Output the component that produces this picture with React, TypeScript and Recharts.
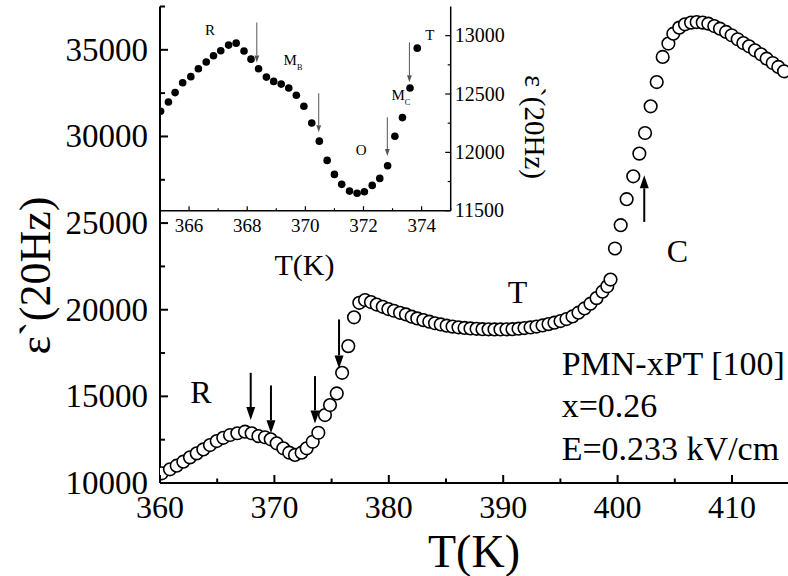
import React from 'react';
import { ScatterChart, Scatter, XAxis, YAxis, ReferenceLine, ReferenceDot } from 'recharts';

const FONT = "'Liberation Serif', 'Times New Roman', serif";

// Main curve: dielectric permittivity at 20 Hz vs temperature (open circles)
const mainTemps = [
  360.15, 360.87, 361.46, 362.04, 362.62, 363.21, 363.79, 364.37, 364.96, 365.53,
  366.12, 366.76, 367.43, 368.01, 368.6, 369.18, 369.68, 370.2, 370.78, 371.3,
  371.8, 372.38, 372.82, 373.35, 373.84, 374.42, 374.86, 375.45, 375.92, 376.46,
  376.96, 377.42, 377.92, 378.44, 378.94, 379.47, 379.96, 380.45, 380.98, 381.5,
  382.0, 382.49, 383.02, 383.54, 384.04, 384.54, 385.06, 385.57, 386.09, 386.62,
  387.14, 387.67, 388.19, 388.72, 389.24, 389.76, 390.29, 390.81, 391.34, 391.86,
  392.39, 392.91, 393.44, 393.96, 394.48, 395.01, 395.53, 396.06, 396.58, 397.11,
  397.63, 398.16, 398.68, 399.1, 399.38, 399.77, 400.27, 400.79, 401.37, 401.9,
  402.4, 402.89, 403.42, 403.94, 404.44, 404.87, 405.39, 405.89, 406.42, 406.91,
  407.44, 407.93, 408.45, 408.95, 409.48, 409.97, 410.5, 410.99, 411.49, 412.01,
  412.54, 413.03, 413.56, 414.05, 414.55,
];
const mainEps = [
  10560, 10790, 11000, 11230, 11480, 11710, 11940, 12190, 12420, 12610,
  12770, 12870, 12960, 12870, 12710, 12640, 12520, 12290, 12000, 11750,
  11620, 11750, 12000, 12380, 12900, 13920, 14500, 15170, 16360, 17900,
  19560, 20400, 20560, 20440, 20300, 20170, 20040, 19940, 19820, 19730,
  19600, 19500, 19400, 19310, 19220, 19150, 19080, 19025, 18985, 18950,
  18920, 18900, 18880, 18870, 18865, 18865, 18870, 18880, 18905, 18940,
  18980, 19030, 19095, 19170, 19250, 19345, 19460, 19615, 19830, 20075,
  20350, 20670, 21040, 21350, 21740, 23535, 24880, 26380, 27700, 29010,
  30200, 31740, 33140, 34590, 35360, 35930, 36280, 36470, 36570, 36600,
  36570, 36510, 36370, 36220, 36030, 35840, 35610, 35390, 35200, 34970,
  34740, 34490, 34240, 34010, 33760,
];

// Inset: close-up of the 365-375 K range (filled dots)
const insetTemps = [
  365.02, 365.29, 365.52, 365.78, 366.06, 366.32, 366.59, 366.84, 367.09, 367.36,
  367.62, 367.89, 368.13, 368.39, 368.66, 368.91, 369.17, 369.43, 369.69, 369.95,
  370.22, 370.48, 370.75, 371.0, 371.25, 371.52, 371.78, 372.03, 372.3, 372.56,
  372.83, 373.08, 373.34, 373.6, 373.85,
];
const insetEps = [
  12352, 12432, 12512, 12597, 12649, 12717, 12774, 12828, 12871, 12919,
  12936, 12868, 12799, 12717, 12645, 12608, 12585, 12551, 12489, 12395,
  12252, 12096, 11931, 11811, 11726, 11668, 11649, 11662, 11717, 11777,
  11885, 12138, 12298, 12551, 12893,
];

// Axis ticks
const mainXTicks = [360, 365, 370, 375, 380, 385, 390, 395, 400, 405, 410, 415];
const mainYTicks = [10000, 12500, 15000, 17500, 20000, 22500, 25000, 27500, 30000, 32500, 35000, 37500];
const insetXTicks = [365, 366, 367, 368, 369, 370, 371, 372, 373, 374, 375];
const insetYTicks = [11500, 11750, 12000, 12250, 12500, 12750, 13000];

// Transition arrows: temperature, tail value, head value
const mainArrowT = [367.93, 369.7, 373.55, 375.65, 402.33];
const mainArrowFrom = [16360, 15630, 16170, 19440, 25070];
const mainArrowTo = [13630, 12870, 13440, 16615, 27760];
const insetArrowT = [368.33, 370.46, 372.82, 373.58];
const insetArrowFrom = [13113, 12506, 12301, 12942];
const insetArrowTo = [12771, 12173, 11968, 12600];

// Phase labels
const mainPhaseText = ['R', 'T', 'C'];
const mainPhaseT = [363.58, 391.25, 405.24];
const mainPhaseEps = [14614, 20398, 22763];
const mainInfoText = ['PMN-xPT [100]', 'x=0.26', 'E=0.233 kV/cm'];
const mainInfoT = 395.11;
const mainInfoEps = [16228, 13824, 11326];

const insetPhaseText = ['R', 'T', 'O'];
const insetPhaseT = [366.72, 374.28, 371.92];
const insetPhaseEps = [13002, 12959, 11976];
const insetSubText = ['B', 'C'];
const insetSubT = [369.25, 372.96];
const insetSubEps = [12745, 12446];

const mainPoints = mainTemps.map((t, i) => ({ t, eps: mainEps[i] }));
const insetPoints = insetTemps.map((t, i) => ({ t, eps: insetEps[i] }));

type Side = 'bottom' | 'top' | 'left' | 'right';
interface TickStyle {
  side: Side;
  step: number;
  major: number;
  minor: number;
  width: number;
  size?: number;
  gap?: number;
  shift?: number;
}

// Inward-pointing ticks; labels only on major values
function tickRenderer(s: TickStyle) {
  return (props: any) => {
    const { x, y, payload } = props;
    const v = Number(payload.value);
    const r = v / s.step;
    const isMajor = Math.abs(r - Math.round(r)) < 1e-6;
    const len = isMajor ? s.major : s.minor;
    let x2 = x;
    let y2 = y;
    if (s.side === 'bottom') y2 = y - len;
    else if (s.side === 'top') y2 = y + len;
    else if (s.side === 'left') x2 = x + len;
    else x2 = x - len;
    let label: React.ReactNode = null;
    if (isMajor && s.size) {
      const common = { fontFamily: FONT, fontSize: s.size, fill: '#000' };
      const gap = s.gap || 0;
      const shift = s.shift || 0;
      if (s.side === 'bottom') {
        label = <text x={x} y={y + gap} textAnchor="middle" {...common}>{v}</text>;
      } else if (s.side === 'left') {
        label = <text x={x - gap} y={y + shift} textAnchor="end" {...common}>{v}</text>;
      } else if (s.side === 'right') {
        label = <text x={x + gap} y={y + shift} textAnchor="start" {...common}>{v}</text>;
      }
    }
    return (
      <g>
        <line x1={x} y1={y} x2={x2} y2={y2} stroke="#000" strokeWidth={s.width} />
        {label}
      </g>
    );
  };
}

function arrowShape(color: string, width: number, headLen: number, headHalf: number) {
  return (p: any) => {
    const { x1, y1, x2, y2 } = p;
    const dx = x2 - x1;
    const dy = y2 - y1;
    const L = Math.hypot(dx, dy) || 1;
    const ux = dx / L;
    const uy = dy / L;
    const bx = x2 - ux * headLen;
    const by = y2 - uy * headLen;
    const px = -uy * headHalf;
    const py = ux * headHalf;
    return (
      <g>
        <line x1={x1} y1={y1} x2={bx} y2={by} stroke={color} strokeWidth={width} />
        <polygon points={`${x2},${y2} ${bx + px},${by + py} ${bx - px},${by - py}`} fill={color} />
      </g>
    );
  };
}

function textShape(text: string, size: number, anchor: 'start' | 'middle', sub?: string) {
  return (p: any) => (
    <text x={p.cx} y={p.cy} fontFamily={FONT} fontSize={size} textAnchor={anchor} fill="#000">
      {text}
      {sub ? <tspan fontSize={size * 0.55} dy={size * 0.3}>{sub}</tspan> : null}
    </text>
  );
}

const openCircle = (p: any) => (
  <circle cx={p.cx} cy={p.cy} r={6.3} fill="#fff" stroke="#000" strokeWidth={1.6} />
);
const filledDot = (p: any) => <circle cx={p.cx} cy={p.cy} r={3.8} fill="#000" />;

const MainChart = () => (
  <ScatterChart width={800} height={576} margin={{ top: 6.5, right: 10.8, bottom: 33, left: 0 }}>
    <XAxis
      xAxisId="b"
      type="number"
      dataKey="t"
      domain={[360, 415]}
      ticks={mainXTicks}
      interval={0}
      allowDataOverflow
      height={60}
      tickSize={0}
      tickMargin={0}
      axisLine={{ stroke: '#000', strokeWidth: 2 }}
      tickLine={false}
      tick={tickRenderer({ side: 'bottom', step: 10, major: 8, minor: 4.5, width: 2, size: 32, gap: 35 })}
    />
    <XAxis
      xAxisId="top"
      orientation="top"
      type="number"
      dataKey="t"
      domain={[360, 415]}
      ticks={mainXTicks}
      interval={0}
      allowDataOverflow
      height={0}
      tickSize={0}
      tickMargin={0}
      axisLine={{ stroke: '#000', strokeWidth: 2 }}
      tickLine={false}
      tick={tickRenderer({ side: 'top', step: 10, major: 3, minor: 3, width: 1.5 })}
    />
    <YAxis
      yAxisId="l"
      type="number"
      dataKey="eps"
      domain={[10000, 37500]}
      ticks={mainYTicks}
      interval={0}
      allowDataOverflow
      width={160}
      tickSize={0}
      tickMargin={0}
      axisLine={{ stroke: '#000', strokeWidth: 2 }}
      tickLine={false}
      tick={tickRenderer({ side: 'left', step: 5000, major: 8, minor: 5, width: 2, size: 33, gap: 12, shift: 11 })}
    />
    <Scatter
      xAxisId="b"
      yAxisId="l"
      data={mainPoints}
      shape={openCircle}
      isAnimationActive={false}
    />
    {mainArrowT.map((t, i) => (
      <ReferenceLine
        key={`ma${i}`}
        xAxisId="b"
        yAxisId="l"
        segment={[{ x: t, y: mainArrowFrom[i] }, { x: t, y: mainArrowTo[i] }]}
        ifOverflow="visible"
        shape={arrowShape('#000', 2, 13, 4.5)}
      />
    ))}
    {mainPhaseText.map((s, i) => (
      <ReferenceDot
        key={`mp${i}`}
        xAxisId="b"
        yAxisId="l"
        x={mainPhaseT[i]}
        y={mainPhaseEps[i]}
        r={0}
        ifOverflow="visible"
        shape={textShape(s, 32, 'middle')}
      />
    ))}
    {mainInfoText.map((s, i) => (
      <ReferenceDot
        key={`mi${i}`}
        xAxisId="b"
        yAxisId="l"
        x={mainInfoT}
        y={mainInfoEps[i]}
        r={0}
        ifOverflow="visible"
        shape={textShape(s, 34, 'start')}
      />
    ))}
  </ScatterChart>
);

const InsetChart = () => (
  <ScatterChart width={600} height={300} margin={{ top: 6.5, right: 49.3, bottom: 29.3, left: 160 }}>
    <XAxis
      xAxisId="b"
      type="number"
      dataKey="t"
      domain={[365, 375]}
      ticks={insetXTicks}
      interval={0}
      allowDataOverflow
      height={60}
      tickSize={0}
      tickMargin={0}
      axisLine={{ stroke: '#000', strokeWidth: 1.5 }}
      tickLine={false}
      tick={tickRenderer({ side: 'bottom', step: 2, major: 4.5, minor: 2.5, width: 1.2, size: 19, gap: 21 })}
    />
    <YAxis
      yAxisId="r"
      orientation="right"
      type="number"
      dataKey="eps"
      domain={[11500, 13250]}
      ticks={insetYTicks}
      interval={0}
      allowDataOverflow
      width={100}
      tickSize={0}
      tickMargin={0}
      axisLine={{ stroke: '#000', strokeWidth: 1.5 }}
      tickLine={false}
      tick={tickRenderer({ side: 'right', step: 500, major: 5.5, minor: 3, width: 1.2, size: 20, gap: 4, shift: 6.7 })}
    />
    <Scatter
      xAxisId="b"
      yAxisId="r"
      data={insetPoints}
      shape={filledDot}
      isAnimationActive={false}
    />
    {insetArrowT.map((t, i) => (
      <ReferenceLine
        key={`ia${i}`}
        xAxisId="b"
        yAxisId="r"
        segment={[{ x: t, y: insetArrowFrom[i] }, { x: t, y: insetArrowTo[i] }]}
        ifOverflow="visible"
        shape={arrowShape('#555', 1, 7, 2.4)}
      />
    ))}
    {insetPhaseText.map((s, i) => (
      <ReferenceDot
        key={`ip${i}`}
        xAxisId="b"
        yAxisId="r"
        x={insetPhaseT[i]}
        y={insetPhaseEps[i]}
        r={0}
        ifOverflow="visible"
        shape={textShape(s, 15, 'middle')}
      />
    ))}
    {insetSubText.map((s, i) => (
      <ReferenceDot
        key={`is${i}`}
        xAxisId="b"
        yAxisId="r"
        x={insetSubT[i]}
        y={insetSubEps[i]}
        r={0}
        ifOverflow="visible"
        shape={textShape('M', 15, 'start', s)}
      />
    ))}
  </ScatterChart>
);

// Axis titles for both plots
const Titles = () => (
  <svg width={788} height={576} style={{ position: 'absolute', left: 0, top: 0, pointerEvents: 'none' }}>
    <text
      x={35}
      y={275.5}
      transform="rotate(-90 35 275.5)"
      textAnchor="middle"
      dominantBaseline="central"
      fontFamily={FONT}
      fontSize={44}
      fill="#000"
    >
      ε`(20Hz)
    </text>
    <text x={474} y={567} textAnchor="middle" fontFamily={FONT} fontSize={46} fill="#000">
      T(K)
    </text>
    <text x={304.5} y={275} textAnchor="middle" fontFamily={FONT} fontSize={30} fill="#000">
      T(K)
    </text>
    <text
      x={535}
      y={127}
      transform="rotate(90 535 127)"
      textAnchor="middle"
      dominantBaseline="central"
      fontFamily={FONT}
      fontSize={29}
      fill="#000"
    >
      ε`(20Hz)
    </text>
  </svg>
);

export default function App() {
  return (
    <div
      style={{
        position: 'absolute',
        left: 0,
        top: 0,
        width: 788,
        height: 576,
        overflow: 'hidden',
        background: '#fff',
      }}
    >
      <div style={{ position: 'absolute', left: 0, top: 0 }}>
        <MainChart />
      </div>
      <div style={{ position: 'absolute', left: 0, top: 0 }}>
        <InsetChart />
      </div>
      <Titles />
    </div>
  );
}
